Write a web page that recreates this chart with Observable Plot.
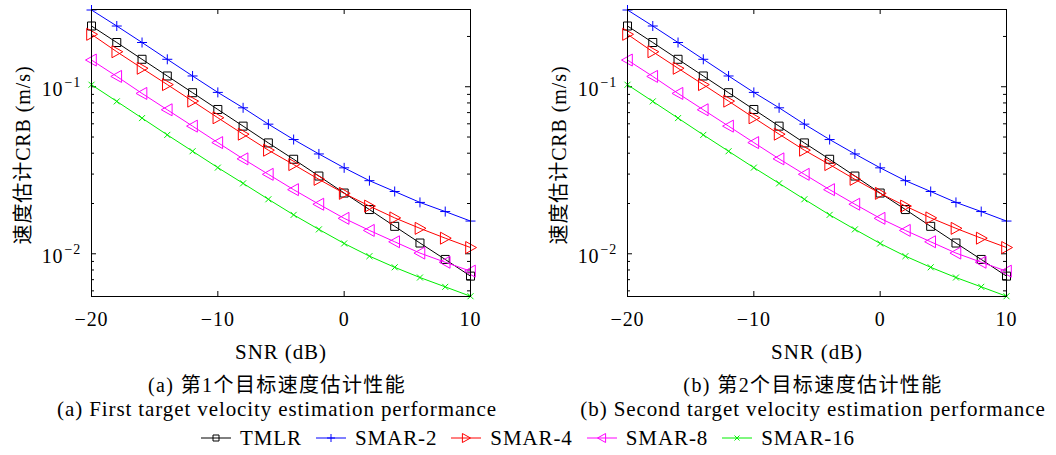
<!DOCTYPE html>
<html><head><meta charset="utf-8">
<script src="https://cdn.jsdelivr.net/npm/d3@7"></script>
<script src="https://cdn.jsdelivr.net/npm/@observablehq/plot@0.6"></script>
<style>
html,body{margin:0;padding:0;background:#fff;overflow:hidden;}
#root{position:relative;width:1056px;height:455px;font-family:"Liberation Serif","DejaVu Serif",serif,"Noto Sans CJK SC";color:#000;}
.panel{position:absolute;top:0;}
.panel svg text{letter-spacing:0.9px;}
.panel svg text.ylab{letter-spacing:1.6px;}
.cap{position:absolute;transform:translateX(-50%);white-space:nowrap;font-size:21px;letter-spacing:0.9px;line-height:24px;}
.cjk{letter-spacing:1.4px;font-size:20px;}
#legend{position:absolute;top:426px;left:0;width:1056px;display:flex;justify-content:center;align-items:center;font-size:21px;letter-spacing:0.9px;line-height:24px;}
#legend .it{display:flex;align-items:center;margin:0 7px;}
#legend svg{margin-right:9px;}
</style></head>
<body><div id="root"></div>
<script>
const snr = [-20,-18,-16,-14,-12,-10,-8,-6,-4,-2,0,2,4,6,8,10];
const seriesNames = ["TMLR","SMAR-2","SMAR-4","SMAR-8","SMAR-16"];
const tmlr   = [0.231,0.184,0.146,0.116,0.0921,0.0731,0.0581,0.0461,0.0368,0.0292,0.0231,0.0184,0.0146,0.0116,0.00925,0.00735];
const smar2  = [0.288,0.231,0.184,0.146,0.116,0.0925,0.0748,0.0597,0.0483,0.0396,0.0327,0.0274,0.0236,0.0203,0.0179,0.0157];
const smar4  = [0.206,0.162,0.129,0.103,0.082,0.0652,0.052,0.0417,0.0342,0.0279,0.0230,0.0193,0.0164,0.0142,0.0124,0.0109];
const smar8  = [0.1445,0.1153,0.0912,0.0728,0.0581,0.0463,0.037,0.0299,0.0242,0.0198,0.0163,0.0138,0.0118,0.0101,0.0089,0.00787];
const smar16 = [0.1028,0.0817,0.0649,0.0515,0.0411,0.0328,0.0264,0.0212,0.0171,0.0140,0.01153,0.00968,0.0083,0.00721,0.00634,0.00557];
// panel (b) reads the same as panel (a)
const tmlrB = tmlr, smar2B = smar2, smar4B = smar4, smar8B = smar8, smar16B = smar16;
const xTicks = [-20,-10,0,10];
const yMajor = [0.01,0.1];
const yExp = ["−2","−1"];
const yMinor = [0.006,0.007,0.008,0.009,0.02,0.03,0.04,0.05,0.06,0.07,0.08,0.09,0.2];
const colors = ["#000000","#0000ff","#ff0000","#ff00ff","#00ee00"];
const yLabel = "速度估计CRB (m/s)";
const xLabel = "SNR (dB)";
const captions = [["(a) 第1个目标速度估计性能","(a) First target velocity estimation performance"],
                  ["(b) 第2个目标速度估计性能","(b) Second target velocity estimation performance"]];

const sq = {draw(c,s){const r=Math.sqrt(s/Math.PI);c.moveTo(-r,-r);c.lineTo(r,-r);c.lineTo(r,r);c.lineTo(-r,r);c.closePath();}};
const plus = {draw(c,s){const r=Math.sqrt(s/Math.PI);c.moveTo(-r,0);c.lineTo(r,0);c.moveTo(0,-r);c.lineTo(0,r);}};
const triR = {draw(c,s){const r=Math.sqrt(s/Math.PI);c.moveTo(-0.8*r,-r);c.lineTo(r,0);c.lineTo(-0.8*r,r);c.closePath();}};
const triL = {draw(c,s){const r=Math.sqrt(s/Math.PI);c.moveTo(0.8*r,-r);c.lineTo(-r,0);c.lineTo(0.8*r,r);c.closePath();}};
const times = {draw(c,s){const r=Math.sqrt(s/Math.PI);c.moveTo(-r,-r);c.lineTo(r,r);c.moveTo(-r,r);c.lineTo(r,-r);}};
const syms = [sq,plus,triR,triL,times];
const radii = [4,5,6,6,3];

const FONT = '"Liberation Serif","DejaVu Serif",serif,"Noto Sans CJK SC"';
const W=520,H=365,ML=91,MR=50,MT=9,MB=69;
const xDom=[-20,10], yDom=[0.00555,0.29];
const ppd = (H-MT-MB)/Math.log10(yDom[1]/yDom[0]);
const ppx = (W-ML-MR)/(xDom[1]-xDom[0]);
const fy = px => Math.pow(10, px/ppd);

function panel(arrs){
  const data = [];
  arrs.forEach((a,si)=>a.forEach((v,i)=>data.push({s:seriesNames[si],si,x:snr[i],y:v})));
  const marks = [];
  marks.push(Plot.ruleX(xTicks,{x:d=>d,y1:yDom[0],y2:yDom[0]*fy(5),stroke:"black"}));
  marks.push(Plot.ruleX(xTicks,{x:d=>d,y1:yDom[1],y2:yDom[1]/fy(5),stroke:"black"}));
  marks.push(Plot.ruleY(yMajor,{y:d=>d,x1:xDom[0],x2:xDom[0]+5/ppx,stroke:"black"}));
  marks.push(Plot.ruleY(yMajor,{y:d=>d,x1:xDom[1],x2:xDom[1]-5/ppx,stroke:"black"}));
  marks.push(Plot.ruleY(yMinor,{y:d=>d,x1:xDom[0],x2:xDom[0]+3/ppx,stroke:"black"}));
  marks.push(Plot.ruleY(yMinor,{y:d=>d,x1:xDom[1],x2:xDom[1]-3/ppx,stroke:"black"}));
  seriesNames.forEach((n,si)=>{
    const d = data.filter(p=>p.si===si);
    marks.push(Plot.line(d,{x:"x",y:"y",stroke:colors[si],strokeWidth:1}));
    marks.push(Plot.dot(d,{x:"x",y:"y",stroke:colors[si],fill:"none",symbol:syms[si],r:radii[si],strokeWidth:1}));
  });
  marks.push(Plot.frame({stroke:"black",strokeWidth:1}));
  marks.push(Plot.text(xTicks,{x:d=>d,frameAnchor:"bottom",dy:23,lineAnchor:"middle",textAnchor:"middle",text:d=>d<0?"−"+(-d):String(d),fontSize:20,fontFamily:FONT}));
  marks.push(Plot.text(yMajor,{y:d=>d,frameAnchor:"left",dx:-28,dy:3,lineAnchor:"middle",textAnchor:"end",text:()=>"10",fontSize:20,fontFamily:FONT}));
  marks.push(Plot.text(yMajor,{y:d=>d,frameAnchor:"left",dx:-27,dy:-4,lineAnchor:"middle",textAnchor:"start",text:(d,i)=>yExp[i],fontSize:14,fontFamily:FONT}));
  marks.push(Plot.text([xLabel],{frameAnchor:"bottom",dy:56,lineAnchor:"middle",textAnchor:"middle",text:d=>d,fontSize:21,fontFamily:FONT}));
  marks.push(Plot.text([yLabel],{frameAnchor:"left",dx:-68,dy:2,rotate:-90,lineAnchor:"middle",textAnchor:"middle",text:d=>d,fontSize:20,fontFamily:FONT,className:"ylab"}));
  return Plot.plot({width:W,height:H,marginLeft:ML,marginRight:MR,marginTop:MT,marginBottom:MB,
    style:{fontFamily:FONT,color:"black",background:"white",overflow:"visible"},
    x:{domain:xDom,axis:null},y:{type:"log",domain:yDom,axis:null},marks});
}
const root = document.getElementById("root");
[[tmlr,smar2,smar4,smar8,smar16],[tmlrB,smar2B,smar4B,smar8B,smar16B]].forEach((arrs,k)=>{
  const div=document.createElement("div");div.className="panel";div.style.left=(k?536:0)+"px";
  div.appendChild(panel(arrs));root.appendChild(div);
  const cx = k?813:277;
  const c1=document.createElement("div");c1.className="cap cjk";c1.style.left=cx+"px";c1.style.top="373px";c1.textContent=captions[k][0];root.appendChild(c1);
  const c2=document.createElement("div");c2.className="cap";c2.style.left=cx+"px";c2.style.top="397px";c2.textContent=captions[k][1];root.appendChild(c2);
});
const leg=document.createElement("div");leg.id="legend";
seriesNames.forEach((n,si)=>{
  const it=document.createElement("div");it.className="it";
  const svg=d3.create("svg").attr("width",30).attr("height",14);
  svg.append("line").attr("x1",0).attr("x2",30).attr("y1",7).attr("y2",7).attr("stroke",colors[si]);
  const p=d3.path();syms[si].draw(p,Math.PI*(si===2||si===3?4.5:si===0?3:si===1?4:2.5)**2);
  svg.append("path").attr("d",p.toString()).attr("transform","translate(15,7)").attr("fill","none").attr("stroke",colors[si]);
  it.appendChild(svg.node());
  const t=document.createElement("span");t.textContent=n;it.appendChild(t);
  leg.appendChild(it);
});
root.appendChild(leg);
</script></body></html>
